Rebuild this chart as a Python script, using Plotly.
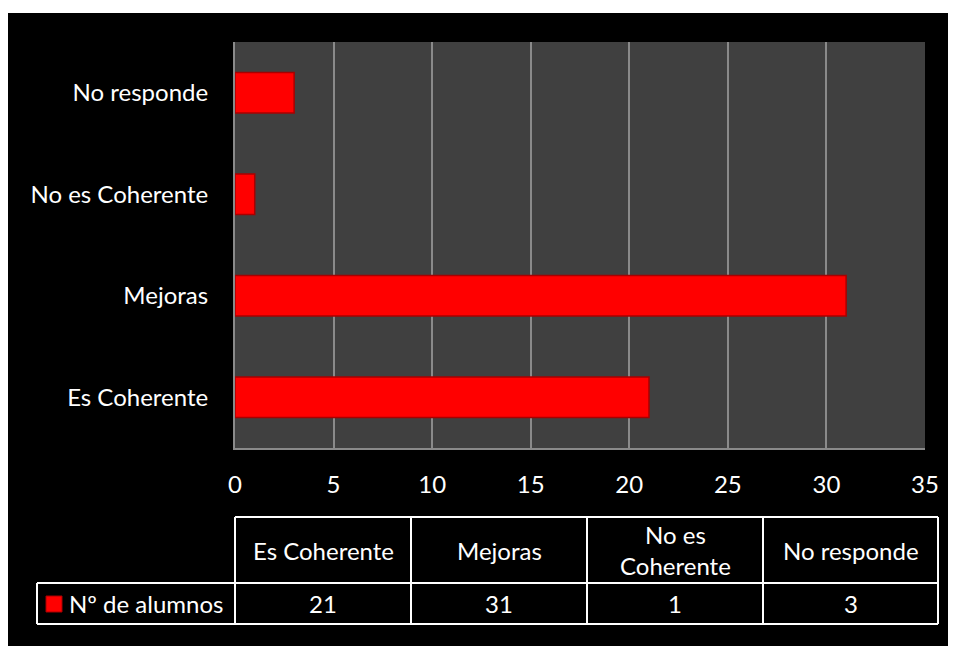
import plotly.graph_objects as go

categories = ["Es Coherente", "Mejoras", "No es Coherente", "No responde"]
table_headers = ["Es Coherente", "Mejoras", "No es<br>Coherente", "No responde"]
values = [21, 31, 1, 3]
series_name = "Nº de alumnos"
x_ticks = [0, 5, 10, 15, 20, 25, 30, 35]

OFF = 8  # page body margin
W, H = 956 - OFF, 646 - OFF
L, R, T, B = 235 - OFF, 925 - OFF, 42 - OFF, 448 - OFF  # plot area in figure pixels
FONT = "Lato"
FS = 24

def px(x):
    return (x - L) / (R - L)

def py(y):
    return (B - y) / (B - T)

fig = go.Figure()
fig.add_trace(go.Bar(
    y=categories, x=values, orientation="h", name=series_name,
    marker=dict(color="#ff0000", line=dict(color="#a80000", width=1.5)),
    width=0.4, showlegend=False,
))

shapes = []
# white strip on top
shapes.append(dict(type="rect", xref="paper", yref="paper", x0=px(-5), x1=px(W + 5), y0=py(5), y1=py(-5),
                   fillcolor="white", line=dict(width=0), layer="above"))

# table geometry (figure pixels)
col_edges = [x - OFF for x in (235, 411, 587, 763, 938)]
leg_left = 37 - OFF
y_top, y_mid, y_bot = 517 - OFF, 583 - OFF, 624 - OFF
lc = dict(color="white", width=2)

def hline(x0, x1, y):
    shapes.append(dict(type="line", xref="paper", yref="paper", x0=px(x0), x1=px(x1), y0=py(y), y1=py(y), line=lc))

def vline(x, y0, y1):
    shapes.append(dict(type="line", xref="paper", yref="paper", x0=px(x), x1=px(x), y0=py(y0), y1=py(y1), line=lc))

hline(col_edges[0], col_edges[-1], y_top)
hline(leg_left, col_edges[-1], y_mid)
hline(leg_left, col_edges[-1], y_bot)
for xe in col_edges:
    vline(xe, y_top, y_bot)
vline(leg_left, y_mid, y_bot)

# legend key
shapes.append(dict(type="rect", xref="paper", yref="paper", x0=px(46 - OFF), x1=px(62 - OFF),
                   y0=py(612 - OFF), y1=py(596 - OFF),
                   fillcolor="#ff0000", line=dict(color="#a80000", width=1)))

annotations = []
for i, (hdr, v) in enumerate(zip(table_headers, values)):
    cx = (col_edges[i] + col_edges[i + 1]) / 2
    annotations.append(dict(text=hdr, xref="paper", yref="paper", x=px(cx), y=py((y_top + y_mid) / 2),
                            showarrow=False, xanchor="center", yanchor="middle",
                            font=dict(family=FONT, size=FS, color="white")))
    annotations.append(dict(text=str(v), xref="paper", yref="paper", x=px(cx), y=py((y_mid + y_bot) / 2),
                            showarrow=False, xanchor="center", yanchor="middle",
                            font=dict(family=FONT, size=FS, color="white")))
annotations.append(dict(text=series_name, xref="paper", yref="paper", x=px(67 - OFF), y=py((y_mid + y_bot) / 2),
                        showarrow=False, xanchor="left", yanchor="middle",
                        font=dict(family=FONT, size=FS, color="white")))

fig.update_layout(
    width=W, height=H,
    margin=dict(l=L, r=W - R, t=T, b=H - B, pad=0),
    paper_bgcolor="black", plot_bgcolor="#404040",
    font=dict(family=FONT, size=FS, color="white"),
    bargap=0.6,
    xaxis=dict(range=[0, 35], tickvals=x_ticks, showgrid=True, gridcolor="#8a8a8a", gridwidth=1.5,
               zeroline=False, showline=True, linecolor="#8a8a8a", linewidth=2,
               ticks="", ticklabelstandoff=14, tickfont=dict(family=FONT, size=FS, color="white")),
    yaxis=dict(categoryorder="array", categoryarray=categories, showgrid=False, zeroline=False,
               showline=True, linecolor="#8a8a8a", linewidth=2, ticks="", ticklabelstandoff=20,
               tickfont=dict(family=FONT, size=FS, color="white")),
    shapes=shapes, annotations=annotations,
)

fig.write_html("out.html")
